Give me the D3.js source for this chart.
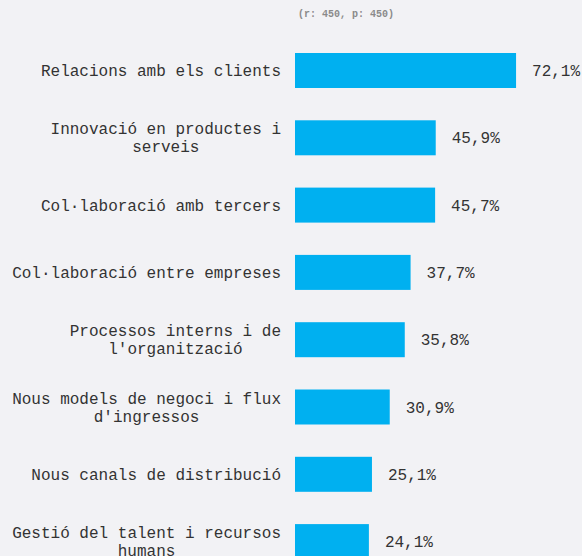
<!DOCTYPE html>
<html lang="ca">
<head>
<meta charset="UTF-8">
<title>Barres</title>
<script src="https://d3js.org/d3.v7.min.js"></script>
<style>
  html, body { margin: 0; padding: 0; background: #f2f2f5; }
  svg { display: block; }
  text { font-family: "Courier New", "Liberation Mono", monospace; }
</style>
</head>
<body>
<script>
const width = 582;
const height = 556;

// data
const categories = [
  "Relacions amb els clients",
  "Innovació en productes i serveis",
  "Col·laboració amb tercers",
  "Col·laboració entre empreses",
  "Processos interns i de l'organització",
  "Nous models de negoci i flux d'ingressos",
  "Nous canals de distribució",
  "Gestió del talent i recursos humans"
];
const values = [72.1, 45.9, 45.7, 37.7, 35.8, 30.9, 25.1, 24.1];
const subtitle = "(r: 450, p: 450)";

const svg = d3.select("body").append("svg")
  .attr("width", width)
  .attr("height", height);

const x = d3.scaleLinear().domain([0, 100]).range([295, 295 + 306.6]);
const y = d3.scaleBand()
  .domain(categories)
  .range([36.85, 575.25])
  .paddingInner(0.48)
  .paddingOuter(0.24);

const fmt = d => d3.format(".1f")(d).replace(".", ",") + "%";

svg.append("text")
  .attr("x", 298)
  .attr("y", 17)
  .attr("font-size", 10)
  .attr("font-weight", "bold")
  .attr("fill", "#8a8a8a")
  .text(subtitle);

const rows = svg.selectAll("g.row")
  .data(categories)
  .enter().append("g")
  .attr("class", "row");

rows.append("rect")
  .attr("x", x(0))
  .attr("y", d => y(d))
  .attr("width", (d, i) => x(values[i]) - x(0))
  .attr("height", y.bandwidth())
  .attr("fill", "#00b0f0");

rows.append("text")
  .attr("x", (d, i) => x(values[i]) + 16)
  .attr("y", d => y(d) + y.bandwidth() / 2)
  .attr("dy", "0.35em")
  .attr("font-size", 16)
  .attr("fill", "#333")
  .text((d, i) => fmt(values[i]));

// category labels, wrapped, lines centered on the widest line, right edge at 281
const maxW = 272;
const lineH = 18;
rows.each(function(d) {
  const g = d3.select(this);
  const words = d.split(" ");
  const probe = g.append("text").attr("font-size", 16);
  const lines = [];
  let cur = [];
  words.forEach(w => {
    cur.push(w);
    probe.text(cur.join(" "));
    if (probe.node().getComputedTextLength() > maxW && cur.length > 1) {
      cur.pop();
      lines.push(cur.join(" "));
      cur = [w];
    }
  });
  lines.push(cur.join(" "));
  const widths = lines.map(l => { probe.text(l); return probe.node().getComputedTextLength(); });
  probe.remove();
  const wMax = d3.max(widths);
  const cx = 281 - wMax / 2;
  const yc = y(d) + y.bandwidth() / 2;
  const t = g.append("text")
    .attr("font-size", 16)
    .attr("fill", "#333")
    .attr("text-anchor", "middle");
  lines.forEach((l, i) => {
    t.append("tspan")
      .attr("x", cx)
      .attr("y", yc + (i - (lines.length - 1) / 2) * lineH)
      .attr("dy", "0.35em")
      .text(l);
  });
});
</script>
</body>
</html>
